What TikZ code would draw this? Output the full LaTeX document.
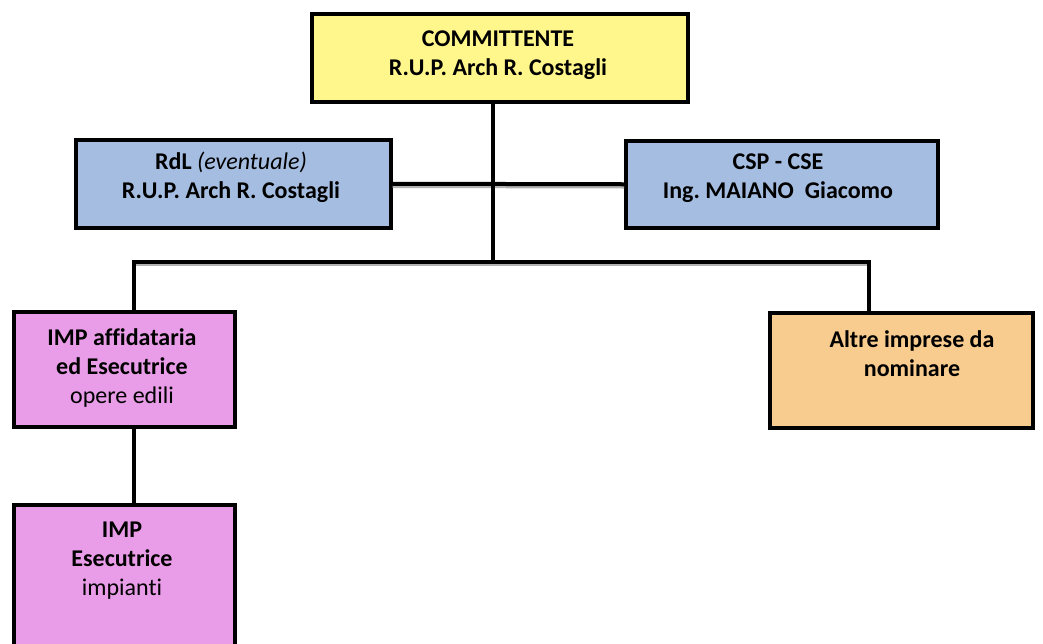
\documentclass[tikz,border=0pt]{standalone}
\usepackage{fontspec}
\setmainfont[Ligatures=NoCommon]{Carlito}
\frenchspacing
\definecolor{cyel}{HTML}{FFF68C}
\definecolor{cblue}{HTML}{A5BDE0}
\definecolor{cpink}{HTML}{E99CE8}
\definecolor{corange}{HTML}{F8CC8F}
\begin{document}
\begin{tikzpicture}[x=1pt,y=-1pt,
  box/.style={draw=black, line width=3.5pt, inner sep=0pt, anchor=north west},
  lbl/.style={anchor=north, inner sep=0pt, align=center, font=\fontsize{24}{29}\selectfont},
  conn/.style={draw=black, line width=4pt},
  shade/.style={draw=black!30, line width=2.5pt}]
\useasboundingbox (0,0) rectangle (1043,643);
\clip (0,0) rectangle (1043,643);
% boxes
\node[box, fill=cyel, minimum width=376pt, minimum height=88pt] (comm) at (310,12) {};
\node[box, fill=cblue, minimum width=315pt, minimum height=88pt] (rdl) at (74,138) {};
\node[box, fill=cblue, minimum width=312pt, minimum height=87pt] (csp) at (624,139) {};
\node[box, fill=cpink, minimum width=221pt, minimum height=115pt] (impa) at (12,310) {};
\node[box, fill=corange, minimum width=263pt, minimum height=115pt] (altre) at (768,311) {};
\node[box, fill=cpink, minimum width=221pt, minimum height=160pt] (impe) at (12,503) {};
% labels
\node[lbl] (commT) at (498,25.7) {\strut\textbf{COMMITTENTE}\\\textbf{R.U.P. Arch R. Costagli}};
\node[lbl] (rdlT) at (231,148.7) {\strut\textbf{RdL} \textit{(eventuale)}\\\textbf{R.U.P. Arch R. Costagli}};
\node[lbl] (cspT) at (778,148.7) {\strut\textbf{CSP - CSE}\\\textbf{Ing. MAIANO\ \ Giacomo}};
\node[lbl] (impaT) at (122,324.7) {\strut\textbf{IMP affidataria}\\\textbf{ed Esecutrice}\\opere edili};
\node[lbl] (altreT) at (912,326.7) {\strut\textbf{Altre imprese da}\\\textbf{nominare}};
\node[lbl] (impeT) at (122,516.7) {\strut\textbf{IMP}\\\textbf{Esecutrice}\\impianti};
% junction coordinates
\coordinate (j) at (493,262);
\coordinate (bl) at (134,262);
\coordinate (br) at (869,262);
% shadows
\draw[shade] ([yshift=-3pt]rdl.east) -- ([yshift=-3pt]csp.west);
\draw[shade] ([yshift=-3pt]bl) -- ([yshift=-3pt]br);
% connectors
\draw[conn] (rdl.east) -- (csp.west);
\draw[conn] (comm.south -| j) -- (j);
\draw[conn, line join=miter] (impa.north -| bl) -- (bl) -- (br) -- (altre.north -| br);
\draw[conn] (impa.south -| bl) -- (impe.north -| bl);
\end{tikzpicture}
\end{document}
